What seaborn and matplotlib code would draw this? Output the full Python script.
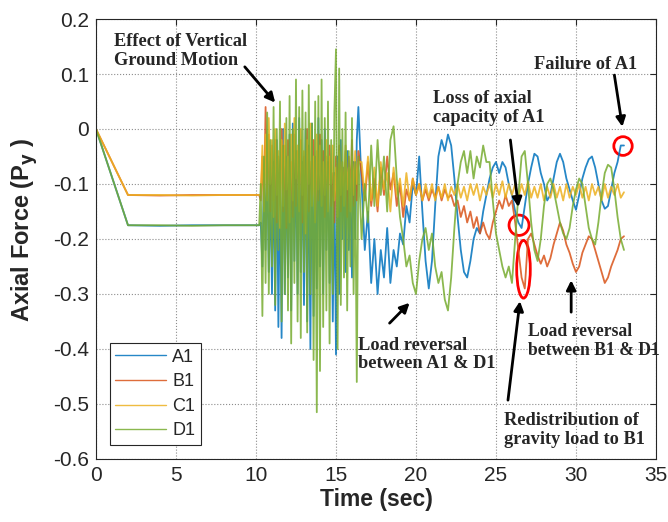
import numpy as np
import pandas as pd
import matplotlib
matplotlib.use("Agg")
import matplotlib.pyplot as plt
import seaborn as sns
from matplotlib.patches import Ellipse

# time grid: pre-load ramp, then the strong shaking part, then the coarser tail
t_flat = [0.0, 2.0, 4.0, 6.0, 8.0, 10.2]
t_fast = list(np.round(np.arange(10.3, 16.45, 0.1), 2))
t_slow = list(np.round(np.arange(16.6, 33.05, 0.2), 2))

a1_flat = [0.0, -0.175, -0.176, -0.175, -0.175, -0.175]
b1_flat = [0.0, -0.12, -0.121, -0.12, -0.12, -0.12]
c1_flat = [0.0, -0.12, -0.12, -0.121, -0.12, -0.12]
d1_flat = [0.0, -0.175, -0.175, -0.176, -0.175, -0.175]

a1_fast = [-0.17, -0.25, -0.08, -0.22, -0.05, -0.26, -0.10, -0.30, -0.06, -0.33,
           -0.02, -0.36, -0.08, -0.38, 0.00, -0.30, -0.05, -0.27, -0.01, -0.33,
           0.01, -0.24, -0.04, -0.30, 0.02, -0.26, -0.06, -0.32, 0.00, -0.35,
           -0.03, -0.40, 0.01, -0.34, -0.05, -0.29, 0.02, -0.25, -0.02, -0.30,
           0.00, -0.22, -0.06, -0.28, -0.10, -0.35, -0.08, -0.41, -0.05, -0.30,
           -0.02, -0.20, -0.07, -0.26, -0.04, -0.22, -0.10, -0.27, -0.06, -0.20,
           -0.02, 0.04]
b1_fast = [-0.13, -0.05, -0.14, 0.04, -0.12, -0.01, -0.15, -0.03, -0.13, -0.02,
           -0.17, -0.05, -0.11, 0.00, -0.15, -0.03, -0.18, -0.02, -0.12, -0.06,
           -0.16, -0.01, -0.14, -0.04, -0.11, -0.02, -0.17, -0.05, -0.13, 0.00,
           -0.15, -0.06, -0.12, -0.02, -0.16, -0.04, -0.13, -0.01, -0.12, -0.04,
           -0.16, -0.05, -0.11, -0.03, -0.14, -0.08, -0.17, -0.05, -0.12, -0.03,
           -0.15, -0.07, -0.11, -0.04, -0.16, -0.05, -0.12, -0.02, -0.14, -0.06,
           -0.13, -0.04]
c1_fast = [-0.12, -0.03, -0.15, -0.01, -0.13, 0.02, -0.10, -0.02, -0.16, 0.00,
           -0.12, -0.04, -0.18, -0.02, -0.14, 0.01, -0.11, -0.05, -0.17, -0.01,
           -0.13, 0.02, -0.09, -0.03, -0.15, 0.00, -0.12, -0.04, -0.19, -0.02,
           -0.10, 0.01, -0.14, -0.05, -0.17, -0.01, -0.11, -0.03, -0.14, -0.06,
           -0.12, -0.02, -0.15, -0.05, -0.10, -0.03, -0.13, -0.07, -0.16, -0.04,
           -0.12, -0.06, -0.14, -0.03, -0.11, -0.07, -0.15, -0.05, -0.12, -0.04,
           -0.10, -0.06]
d1_fast = [-0.10, -0.34, -0.05, -0.28, 0.03, -0.30, -0.02, -0.25, 0.04, -0.32,
           0.00, -0.22, 0.05, -0.35, -0.03, -0.30, 0.02, -0.33, 0.06, -0.39,
           0.00, -0.28, 0.09, -0.35, 0.04, -0.38, 0.07, -0.26, 0.03, -0.37,
           0.08, -0.30, 0.01, -0.42, 0.05, -0.515, 0.06, -0.44, 0.09, -0.36,
           0.02, -0.33, 0.05, -0.39, -0.02, -0.30, 0.03, 0.145, -0.40, 0.11,
           -0.32, 0.00, -0.27, 0.03, -0.33, -0.04, -0.25, 0.02, -0.30, -0.06,
           -0.46, -0.05]

a1_slow = [-0.10, -0.22, -0.15, -0.28, -0.20,
           -0.30, -0.22, -0.27, -0.18, -0.28,
           -0.22, -0.25, -0.19, -0.21, -0.14,
           -0.17, -0.10, -0.12, -0.05, -0.15,
           -0.24, -0.29, -0.24, -0.14, -0.05,
           -0.02, -0.04, -0.01, -0.03, -0.09,
           -0.16, -0.22, -0.26, -0.27, -0.24,
           -0.20, -0.18, -0.19, -0.15, -0.12,
           -0.09, -0.07, -0.06, -0.08, -0.06,
           -0.07, -0.10, -0.12, -0.15, -0.17,
           -0.18, -0.14, -0.10, -0.07, -0.045,
           -0.05, -0.08, -0.10, -0.13, -0.12,
           -0.09, -0.06, -0.045, -0.06, -0.09,
           -0.11, -0.13, -0.147, -0.12, -0.09,
           -0.07, -0.055, -0.05, -0.07, -0.10,
           -0.13, -0.145, -0.14, -0.11, -0.08,
           -0.06, -0.03, -0.03]
b1_slow = [-0.08, -0.13, -0.06, -0.14, -0.09,
           -0.15, -0.07, -0.12, -0.05, -0.11,
           -0.08, -0.14, -0.10, -0.16, -0.11,
           -0.13, -0.09, -0.12, -0.10, -0.13,
           -0.11, -0.13, -0.11, -0.125, -0.105,
           -0.13, -0.11, -0.125, -0.12, -0.14,
           -0.13, -0.16, -0.14, -0.17, -0.15,
           -0.18, -0.16, -0.19, -0.17, -0.19,
           -0.20, -0.17, -0.15, -0.13, -0.145,
           -0.12, -0.14, -0.13, -0.17, -0.22,
           -0.27, -0.29, -0.20, -0.19, -0.21,
           -0.23, -0.245, -0.23, -0.25, -0.235,
           -0.21, -0.19, -0.17, -0.185, -0.21,
           -0.225, -0.245, -0.26, -0.25, -0.225,
           -0.21, -0.195, -0.20, -0.22, -0.24,
           -0.26, -0.28, -0.27, -0.25, -0.235,
           -0.22, -0.20, -0.195]
c1_slow = [-0.06, -0.12, -0.05, -0.13, -0.07,
           -0.14, -0.06, -0.11, -0.08, -0.15,
           -0.07, -0.12, -0.09, -0.14, -0.08,
           -0.13, -0.09, -0.12, -0.10, -0.13,
           -0.10, -0.125, -0.10, -0.13, -0.105,
           -0.125, -0.10, -0.13, -0.105, -0.12,
           -0.10, -0.125, -0.105, -0.13, -0.10,
           -0.12, -0.10, -0.13, -0.105, -0.12,
           -0.10, -0.125, -0.10, -0.12, -0.095,
           -0.125, -0.10, -0.12, -0.10, -0.125,
           -0.10, -0.12, -0.095, -0.125, -0.105,
           -0.125, -0.10, -0.13, -0.105, -0.125,
           -0.10, -0.125, -0.105, -0.13, -0.10,
           -0.125, -0.105, -0.12, -0.10, -0.125,
           -0.105, -0.13, -0.10, -0.12, -0.105,
           -0.13, -0.10, -0.125, -0.105, -0.12,
           -0.10, -0.125, -0.115]
d1_slow = [-0.20, -0.10, -0.17, -0.03, -0.14,
           -0.02, -0.12, -0.05, -0.15, -0.02,
           0.005, -0.09, -0.16, -0.20, -0.25,
           -0.23, -0.28, -0.30, -0.24, -0.20,
           -0.18, -0.22, -0.19, -0.25, -0.28,
           -0.26, -0.31, -0.33, -0.27, -0.18,
           -0.10, -0.06, -0.04, -0.08, -0.04,
           -0.09, -0.05, -0.07, -0.03, -0.06,
           -0.06, -0.13, -0.19, -0.22, -0.25,
           -0.27, -0.25, -0.28, -0.20, -0.12,
           -0.05, -0.04, -0.10, -0.17, -0.22,
           -0.24, -0.20, -0.14, -0.10, -0.09,
           -0.11, -0.14, -0.17, -0.19, -0.20,
           -0.18, -0.14, -0.11, -0.09, -0.10,
           -0.14, -0.18, -0.20, -0.21, -0.17,
           -0.12, -0.08, -0.065, -0.07, -0.11,
           -0.16, -0.20, -0.22]

columns = ["A1", "B1", "C1", "D1"]
colors = ["#0072BD", "#D95319", "#EDB120", "#77AC30"]

time = t_flat + t_fast + t_slow
series = {
    "A1": a1_flat + a1_fast + a1_slow,
    "B1": b1_flat + b1_fast + b1_slow,
    "C1": c1_flat + c1_fast + c1_slow,
    "D1": d1_flat + d1_fast + d1_slow,
}

frames = []
for name in columns:
    vals = series[name]
    assert len(vals) == len(time), (name, len(vals), len(time))
    frames.append(pd.DataFrame({"Time": time, "Force": vals, "Column": name}))
df = pd.concat(frames, ignore_index=True)

sns.set_style("white")
plt.rcParams["font.family"] = ["Liberation Sans", "DejaVu Sans"]
plt.rcParams["axes.unicode_minus"] = False

fig = plt.figure(figsize=(6.68, 5.22), dpi=100)
ax = fig.add_axes([0.1437, 0.1207, 0.8383, 0.8429])

sns.lineplot(data=df, x="Time", y="Force", hue="Column", hue_order=columns,
             palette=colors, estimator=None, sort=False, lw=1.3, alpha=0.85, ax=ax)

ax.set_xlim(0, 35)
ax.set_ylim(-0.6, 0.2)
ax.set_xticks(np.arange(0, 36, 5))
ax.set_yticks(np.round(np.arange(-0.6, 0.21, 0.1), 1))
ax.set_yticklabels(["-0.6", "-0.5", "-0.4", "-0.3", "-0.2", "-0.1", "0", "0.1", "0.2"])
ax.grid(True, ls=":", color="#8c8c8c", lw=0.8)
ax.set_axisbelow(True)
ax.tick_params(direction="in", length=4, labelsize=15, colors="#262626",
               top=True, right=True, pad=5)
for s in ax.spines.values():
    s.set_color("#262626")
    s.set_linewidth(0.8)

ax.set_xlabel("Time (sec)", fontsize=16.5, fontweight="bold", color="#262626",
              labelpad=2)
ax.set_ylabel("Axial Force (P$_\\mathbf{y}$ )", fontsize=17, fontweight="bold",
              color="#262626")
ax.yaxis.set_label_coords(-0.1, 0.52)

leg = ax.legend(loc="lower left", bbox_to_anchor=(0.025, 0.032), fontsize=13,
                frameon=True, fancybox=False, framealpha=1, edgecolor="#262626",
                handlelength=2.8, handletextpad=0.35, borderpad=0.3,
                labelspacing=0.42, borderaxespad=0)
leg.get_frame().set_linewidth(0.8)
for h in leg.get_lines():
    h.set_linewidth(1.0)

note = dict(fontsize=13.2, fontweight="bold", family="Liberation Serif",
            ha="left", va="center", linespacing=1.15)
arrow = dict(arrowstyle="-|>", color="k", lw=2, mutation_scale=14,
             shrinkA=0, shrinkB=0)

ax.text(1.1, 0.142, "Effect of Vertical\nGround Motion", **note)
ax.annotate("", xy=(11.2, 0.048), xytext=(9.3, 0.113), arrowprops=arrow)

ax.text(27.4, 0.118, "Failure of A1", **note)
ax.annotate("", xy=(32.9, 0.004), xytext=(32.4, 0.098), arrowprops=arrow)
ax.add_patch(Ellipse((32.94, -0.031), 1.15, 0.034, fill=False, ec="red", lw=2))

ax.text(21.05, 0.039, "Loss of axial\ncapacity of A1", **note)
ax.annotate("", xy=(26.4, -0.142), xytext=(25.9, -0.02), arrowprops=arrow)
ax.add_patch(Ellipse((26.44, -0.175), 1.25, 0.037, fill=False, ec="red", lw=2))
ax.add_patch(Ellipse((26.72, -0.255), 0.85, 0.105, fill=False, ec="red", lw=2))

ax.text(16.35, -0.41, "Load reversal\nbetween A1 & D1", **note)
ax.annotate("", xy=(19.6, -0.316), xytext=(18.35, -0.353), arrowprops=arrow)

ax.text(27.0, -0.386, "Load reversal\nbetween B1 & D1", **{**note, "fontsize": 12.7})
ax.annotate("", xy=(29.7, -0.275), xytext=(29.7, -0.333), arrowprops=arrow)

ax.text(25.5, -0.548, "Redistribution of\ngravity load to B1", **note)
ax.annotate("", xy=(26.5, -0.313), xytext=(25.75, -0.493), arrowprops=arrow)

fig.savefig("out.png", dpi=100)
